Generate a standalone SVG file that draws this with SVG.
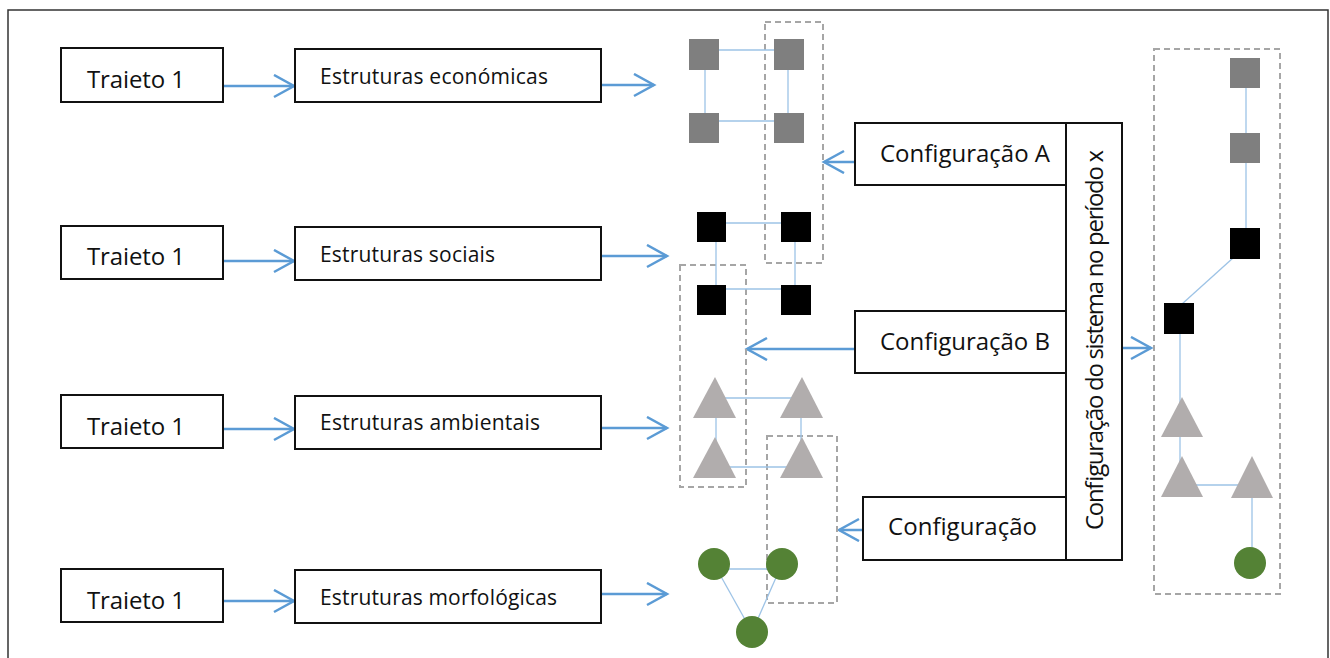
<svg xmlns="http://www.w3.org/2000/svg" width="1330" height="658" viewBox="0 0 1330 658">
<defs>
<style>
.box{fill:#fff;stroke:#111;stroke-width:2}
.t1{font-family:"Open Sans","DejaVu Sans",sans-serif;font-size:24px;fill:#111}
.t2{font-family:"Open Sans","DejaVu Sans",sans-serif;font-size:21px;fill:#111}
.arr{stroke:#5b9bd5;stroke-width:2.5;fill:none;marker-end:url(#ah)}
.ln{stroke:#9dc3e6;stroke-width:1.3;fill:none}
.dash{fill:none;stroke:#a6a6a6;stroke-width:2;stroke-dasharray:6 4}
.gs{fill:#7f7f7f}
.bs{fill:#000}
.tri{fill:#b1adad}
.gc{fill:#548235}
</style>
<marker id="ah" markerUnits="userSpaceOnUse" markerWidth="24" markerHeight="26" refX="21" refY="12" orient="auto">
<path d="M1,1 L21,12 L1,23" fill="none" stroke="#5b9bd5" stroke-width="2.5"/>
</marker>
</defs>
<rect width="1330" height="658" fill="#fff"/>
<path d="M8,662 L8,10 L1328,10 L1328,662" fill="none" stroke="#333" stroke-width="1.5"/>

<g id="connectors">
<line class="arr" x1="223" y1="86" x2="294" y2="86"/>
<line class="arr" x1="223" y1="261" x2="294" y2="261"/>
<line class="arr" x1="223" y1="429" x2="294" y2="429"/>
<line class="arr" x1="223" y1="601" x2="294" y2="601"/>
<line class="arr" x1="601" y1="85" x2="654" y2="85"/>
<line class="arr" x1="601" y1="256" x2="667" y2="256"/>
<line class="arr" x1="601" y1="428" x2="667" y2="428"/>
<line class="arr" x1="601" y1="594" x2="667" y2="594"/>
<line class="arr" x1="855" y1="162" x2="824" y2="162"/>
<line class="arr" x1="855" y1="349" x2="747" y2="349"/>
<line class="arr" x1="863" y1="530" x2="839" y2="530"/>
<line class="arr" x1="1122" y1="348" x2="1151" y2="348"/>
</g>

<g id="traieto1"><rect class="box" x="61" y="48" width="162" height="54"/><text class="t1" x="87" y="88" textLength="98">Traieto 1</text></g>
<g id="traieto2"><rect class="box" x="61" y="226" width="162" height="53"/><text class="t1" x="87" y="265" textLength="98">Traieto 1</text></g>
<g id="traieto3"><rect class="box" x="61" y="395" width="162" height="53"/><text class="t1" x="87" y="435" textLength="98">Traieto 1</text></g>
<g id="traieto4"><rect class="box" x="61" y="569" width="162" height="53"/><text class="t1" x="87" y="609" textLength="98">Traieto 1</text></g>

<g id="estr-econ"><rect class="box" x="295" y="49" width="306" height="53"/><text class="t2" x="320" y="84" textLength="228">Estruturas económicas</text></g>
<g id="estr-soc"><rect class="box" x="295" y="227" width="306" height="53"/><text class="t2" x="320" y="262" textLength="175">Estruturas sociais</text></g>
<g id="estr-amb"><rect class="box" x="295" y="396" width="306" height="53"/><text class="t2" x="320" y="430" textLength="220">Estruturas ambientais</text></g>
<g id="estr-morf"><rect class="box" x="295" y="570" width="306" height="53"/><text class="t2" x="320" y="605" textLength="237">Estruturas morfológicas</text></g>

<g id="configA"><rect class="box" x="855" y="123" width="211" height="62"/><text class="t1" x="880" y="162" textLength="170">Configuração A</text></g>
<g id="configB"><rect class="box" x="855" y="311" width="211" height="62"/><text class="t1" x="880" y="350" textLength="170">Configuração B</text></g>
<g id="configC"><rect class="box" x="863" y="497" width="203" height="63"/><text class="t1" x="888" y="535" textLength="149">Configuração</text></g>
<g id="config-sistema"><rect class="box" x="1066" y="123" width="56" height="437"/><text class="t1" font-size="22" x="1103" y="340" text-anchor="middle" textLength="380" transform="rotate(-90 1103 340)">Configuração do sistema no período x</text></g>

<g id="structure-left">
<rect class="dash" x="765" y="22" width="58" height="241"/>
<rect class="dash" x="680" y="265" width="66" height="222"/>
<rect class="dash" x="767" y="436" width="70" height="167"/>
<line class="ln" x1="704" y1="50" x2="789" y2="50"/>
<line class="ln" x1="704" y1="121" x2="789" y2="121"/>
<line class="ln" x1="705" y1="54" x2="705" y2="128"/>
<line class="ln" x1="788" y1="54" x2="788" y2="128"/>
<rect class="gs" x="689" y="39" width="30" height="31"/>
<rect class="gs" x="774" y="39" width="30" height="31"/>
<rect class="gs" x="689" y="113" width="30" height="30"/>
<rect class="gs" x="774" y="113" width="30" height="30"/>
<line class="ln" x1="711" y1="223" x2="796" y2="223"/>
<line class="ln" x1="711" y1="289" x2="796" y2="289"/>
<line class="ln" x1="716" y1="227" x2="716" y2="300"/>
<line class="ln" x1="795" y1="227" x2="795" y2="300"/>
<rect class="bs" x="697" y="212" width="29" height="30"/>
<rect class="bs" x="781" y="212" width="30" height="30"/>
<rect class="bs" x="697" y="285" width="29" height="30"/>
<rect class="bs" x="781" y="285" width="30" height="30"/>
<line class="ln" x1="716" y1="398" x2="801" y2="398"/>
<line class="ln" x1="716" y1="467" x2="801" y2="467"/>
<line class="ln" x1="716" y1="400" x2="716" y2="460"/>
<line class="ln" x1="801" y1="400" x2="801" y2="460"/>
<polygon class="tri" points="715,377 736,418 693,418"/>
<polygon class="tri" points="802,377 823,418 780,418"/>
<polygon class="tri" points="715,437 736,478 693,478"/>
<polygon class="tri" points="802,437 823,478 780,478"/>
<line class="ln" x1="714" y1="569" x2="782" y2="569"/>
<line class="ln" x1="714" y1="564" x2="752" y2="632"/>
<line class="ln" x1="782" y1="564" x2="752" y2="632"/>
<circle class="gc" cx="714" cy="564" r="16"/>
<circle class="gc" cx="782" cy="564" r="16"/>
<circle class="gc" cx="752" cy="632" r="16"/>
</g>

<g id="structure-right">
<rect class="dash" x="1154" y="49" width="126" height="545"/>
<line class="ln" x1="1246" y1="73" x2="1246" y2="243"/>
<line class="ln" x1="1233" y1="258" x2="1182" y2="304"/>
<line class="ln" x1="1180" y1="318" x2="1180" y2="480"/>
<line class="ln" x1="1183" y1="485" x2="1252" y2="485"/>
<line class="ln" x1="1252" y1="480" x2="1252" y2="560"/>
<rect class="gs" x="1230" y="58" width="30" height="30"/>
<rect class="gs" x="1230" y="133" width="30" height="30"/>
<rect class="bs" x="1230" y="228" width="30" height="31"/>
<rect class="bs" x="1164" y="303" width="30" height="31"/>
<polygon class="tri" points="1182,397 1203,437 1161,437"/>
<polygon class="tri" points="1182,456 1203,497 1161,497"/>
<polygon class="tri" points="1252,456 1273,498 1231,498"/>
<circle class="gc" cx="1250" cy="563" r="16"/>
</g>
</svg>
